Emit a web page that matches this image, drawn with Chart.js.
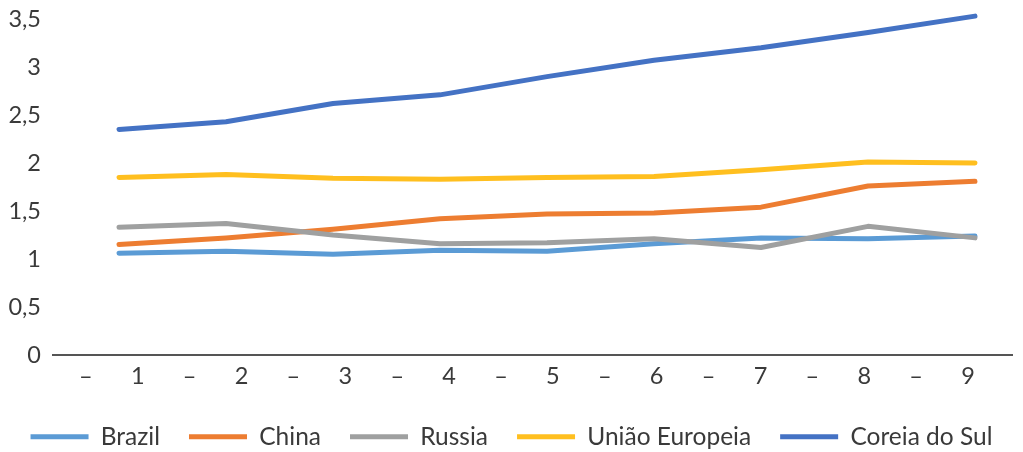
<!DOCTYPE html>
<html>
<head>
<meta charset="utf-8">
<script src="https://cdn.jsdelivr.net/npm/chart.js@4.4.1/dist/chart.umd.min.js"></script>
<style>
  html, body { margin: 0; padding: 0; background: #ffffff; }
  #wrap { width: 1023px; height: 452px; position: relative; }
</style>
</head>
<body>
<div id="wrap"><canvas id="chart"></canvas></div>
<script>
// Periods 1..9 and the axis captions printed under them
const categories = [1, 2, 3, 4, 5, 6, 7, 8, 9];
const tickLabels = ['–', '1', '–', '2', '–', '3', '–', '4', '–', '5', '–', '6', '–', '7', '–', '8', '–', '9'];
const yTicks = [0, 0.5, 1, 1.5, 2, 2.5, 3, 3.5];

// Series values
const brazil = [1.06, 1.08, 1.05, 1.09, 1.08, 1.16, 1.22, 1.21, 1.24];
const china = [1.15, 1.22, 1.31, 1.42, 1.47, 1.48, 1.54, 1.76, 1.81];
const russia = [1.33, 1.37, 1.25, 1.16, 1.17, 1.21, 1.12, 1.34, 1.22];
const uniaoEuropeia = [1.85, 1.88, 1.84, 1.83, 1.85, 1.86, 1.93, 2.01, 2.00];
const coreiaDoSul = [2.35, 2.43, 2.62, 2.71, 2.90, 3.07, 3.20, 3.36, 3.53];

const FONT = 'Lato, "Open Sans", sans-serif';
const TEXT = '#3a3a3a';

function series(label, values, color, order) {
  return {
    label,
    data: values.map((v, i) => ({ x: categories[i], y: v })),
    borderColor: color,
    backgroundColor: color,
    borderWidth: 5,
    borderCapStyle: 'round',
    borderJoinStyle: 'round',
    pointRadius: 0,
    pointHoverRadius: 0,
    pointStyle: 'line',
    tension: 0,
    fill: false,
    clip: false,
    order
  };
}

// caption layout along the x axis
const tickStart = 0.69;
const tickStep = 0.485;

new Chart(document.getElementById('chart'), {
  type: 'line',
  data: {
    datasets: [
      series('Brazil', brazil, '#5b9bd5', 4),
      series('China', china, '#ed7d31', 3),
      series('Russia', russia, '#9fa0a0', 2),
      series('União Europeia', uniaoEuropeia, '#ffbf1f', 1),
      series('Coreia do Sul', coreiaDoSul, '#4472c4', 0)
    ]
  },
  options: {
    responsive: true,
    maintainAspectRatio: false,
    animation: false,
    layout: { padding: { top: 19, right: 0, bottom: -7, left: 0 } },
    plugins: {
      tooltip: { enabled: false },
      legend: {
        position: 'bottom',
        reverse: true,
        labels: {
          usePointStyle: true,
          pointStyleWidth: 58,
          padding: 29,
          color: TEXT,
          font: { family: FONT, size: 24.5 }
        }
      }
    },
    scales: {
      x: {
        type: 'linear',
        min: 0.383,
        max: 9.346,
        grid: { display: false, drawTicks: false },
        border: { display: true, color: '#555555', width: 2 },
        afterBuildTicks: (scale) => {
          scale.ticks = tickLabels.map((t, k) => ({ value: tickStart + k * tickStep }));
        },
        afterFit: (scale) => { scale.height = 40.5; },
        ticks: {
          autoSkip: false,
          maxRotation: 0,
          padding: 7,
          color: TEXT,
          font: { family: FONT, size: 23.5 },
          callback: (v, i) => tickLabels[i]
        }
      },
      y: {
        min: 0,
        max: 3.5,
        grid: { display: false, drawTicks: false },
        border: { display: false },
        afterBuildTicks: (scale) => {
          scale.ticks = yTicks.map(v => ({ value: v }));
        },
        afterFit: (scale) => {
          scale.width = 53;
          scale.paddingTop = 0;
          scale.paddingBottom = 0;
        },
        ticks: {
          padding: 12,
          color: TEXT,
          font: { family: FONT, size: 23.5 },
          callback: (v) => String(v).replace('.', ',')
        }
      },
      // empty strip keeping the plot clear of the right edge
      edge: {
        type: 'linear',
        position: 'right',
        display: true,
        grid: { display: false, drawTicks: false },
        border: { display: false },
        ticks: { display: false },
        afterFit: (scale) => {
          scale.width = 11;
          scale.paddingTop = 0;
          scale.paddingBottom = 0;
        }
      }
    }
  }
});
</script>
</body>
</html>
